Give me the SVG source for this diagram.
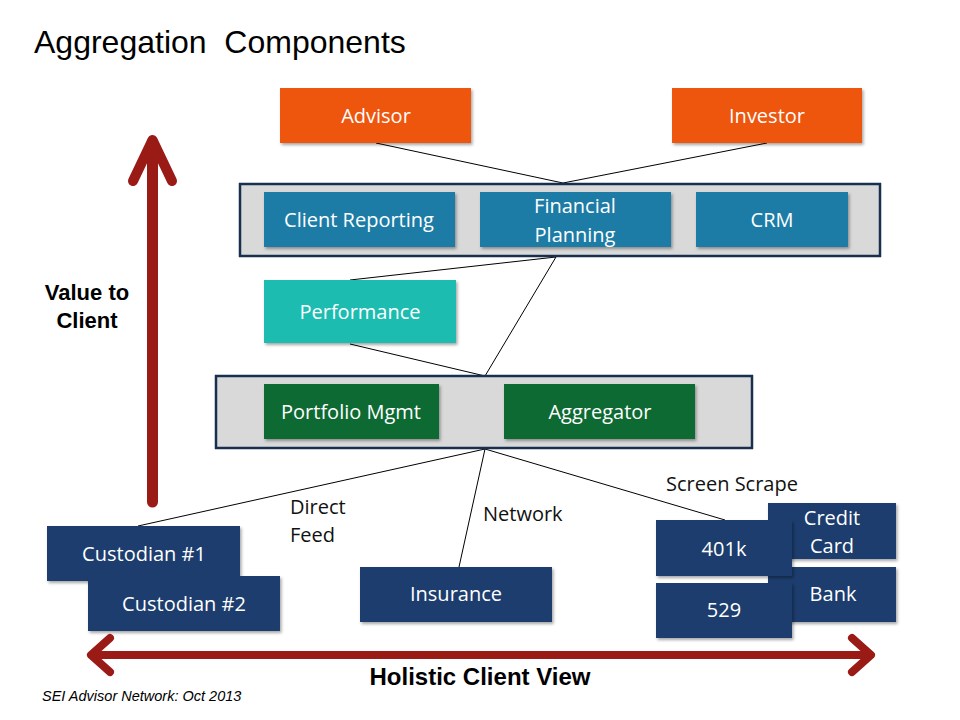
<svg xmlns="http://www.w3.org/2000/svg" width="960" height="720" viewBox="0 0 960 720">
<defs>
<filter id="sh" x="-10%" y="-10%" width="130%" height="140%">
<feDropShadow dx="1.5" dy="2" stdDeviation="1.5" flood-color="#000" flood-opacity="0.35"/>
</filter>
<style>
.t{font-family:"Open Sans","Noto Sans",sans-serif;font-size:20px;fill:#fff;text-anchor:middle}
.lbl{font-family:"Open Sans","Noto Sans",sans-serif;font-size:20px;fill:#111}
.org{fill:#EE5510}
.blu{fill:#1A7BA5}
.tq{fill:#1CBDB0}
.grn{fill:#0E6A33}
.nav{fill:#1B3D6D}
.cont{fill:#D9D9D9;stroke:#17304F;stroke-width:2.5}
.conn{stroke:#000;stroke-width:1;fill:none}
.red{stroke:#9A1A16;fill:none;stroke-linecap:round;stroke-linejoin:round}
</style>
</defs>
<rect width="960" height="720" fill="#fff"/>
<text x="34" y="53" xml:space="preserve" font-family="'Liberation Sans',Arial,sans-serif" font-size="32" fill="#000">Aggregation  Components</text>

<g id="connectors">
<line class="conn" x1="376" y1="143" x2="563" y2="183"/>
<line class="conn" x1="767" y1="143" x2="563" y2="183"/>
<line class="conn" x1="556" y1="257" x2="350" y2="280"/>
<line class="conn" x1="556" y1="257" x2="485" y2="376"/>
<line class="conn" x1="350" y1="344" x2="485" y2="376"/>
<line class="conn" x1="485" y1="449" x2="138" y2="526"/>
<line class="conn" x1="485" y1="449" x2="459" y2="567"/>
<line class="conn" x1="485" y1="449" x2="725" y2="520"/>
</g>

<g id="value-arrow">
<line class="red" x1="152.5" y1="502" x2="152.5" y2="142" stroke-width="11" stroke-linecap="butt"/>
<polyline class="red" points="133,181 152.5,140 172,181" stroke-width="10"/>
<text x="87" y="300" font-family="'Liberation Sans',Arial,sans-serif" font-size="22" font-weight="bold" text-anchor="middle">Value to</text>
<text x="87" y="328" font-family="'Liberation Sans',Arial,sans-serif" font-size="22" font-weight="bold" text-anchor="middle">Client</text>
</g>

<g id="advisor"><rect class="org" x="280" y="88" width="191" height="55" filter="url(#sh)"/><text class="t" x="376" y="123">Advisor</text></g>
<g id="investor"><rect class="org" x="672" y="88" width="190" height="55" filter="url(#sh)"/><text class="t" x="767" y="123">Investor</text></g>

<g id="top-container"><rect class="cont" x="240" y="184" width="640" height="72"/></g>
<g id="client-reporting"><rect class="blu" x="264" y="192" width="191" height="55" filter="url(#sh)"/><text class="t" x="359" y="227">Client Reporting</text></g>
<g id="financial-planning"><rect class="blu" x="480" y="192" width="191" height="55" filter="url(#sh)"/><text class="t" x="575" y="213">Financial</text><text class="t" x="575" y="242">Planning</text></g>
<g id="crm"><rect class="blu" x="696" y="192" width="152" height="55" filter="url(#sh)"/><text class="t" x="772" y="227">CRM</text></g>

<g id="performance"><rect class="tq" x="264" y="280" width="192" height="63" filter="url(#sh)"/><text class="t" x="360" y="319">Performance</text></g>

<g id="mid-container"><rect class="cont" x="216" y="376" width="536" height="72"/></g>
<g id="portfolio-mgmt"><rect class="grn" x="264" y="384" width="175" height="55" filter="url(#sh)"/><text class="t" x="351" y="419">Portfolio Mgmt</text></g>
<g id="aggregator"><rect class="grn" x="504" y="384" width="191" height="55" filter="url(#sh)"/><text class="t" x="600" y="419">Aggregator</text></g>

<g id="labels">
<text class="lbl" x="290" y="514">Direct</text>
<text class="lbl" x="290" y="542">Feed</text>
<text class="lbl" x="483" y="521">Network</text>
<text class="lbl" x="666" y="491">Screen Scrape</text>
</g>

<g id="custodian1"><rect class="nav" x="47" y="526" width="193" height="55" filter="url(#sh)"/><text class="t" x="144" y="561">Custodian #1</text></g>
<g id="custodian2"><rect class="nav" x="88" y="576" width="192" height="55" filter="url(#sh)"/><text class="t" x="184" y="611">Custodian #2</text></g>
<g id="insurance"><rect class="nav" x="360" y="567" width="192" height="55" filter="url(#sh)"/><text class="t" x="456" y="601">Insurance</text></g>
<g id="credit-card"><rect class="nav" x="768" y="503" width="128" height="56" filter="url(#sh)"/><text class="t" x="832" y="525">Credit</text><text class="t" x="832" y="553">Card</text></g>
<g id="bank"><rect class="nav" x="768" y="567" width="128" height="55" filter="url(#sh)"/><text class="t" x="833" y="601">Bank</text></g>
<g id="k401"><rect class="nav" x="656" y="520" width="136" height="56" filter="url(#sh)"/><text class="t" x="724" y="556">401k</text></g>
<g id="p529"><rect class="nav" x="656" y="583" width="136" height="55" filter="url(#sh)"/><text class="t" x="724" y="617">529</text></g>

<g id="holistic-arrow">
<line class="red" x1="94" y1="655" x2="868" y2="655" stroke-width="8" stroke-linecap="butt"/>
<polyline class="red" points="110,638 91,655 110,672" stroke-width="8"/>
<polyline class="red" points="852,638 871,655 852,672" stroke-width="8"/>
<text x="480" y="685" font-family="'Liberation Sans',Arial,sans-serif" font-size="24" font-weight="bold" text-anchor="middle">Holistic Client View</text>
</g>
<text x="42" y="701" font-family="'Liberation Sans',Arial,sans-serif" font-size="14.5" font-style="italic" fill="#000">SEI Advisor Network: Oct 2013</text>
</svg>
